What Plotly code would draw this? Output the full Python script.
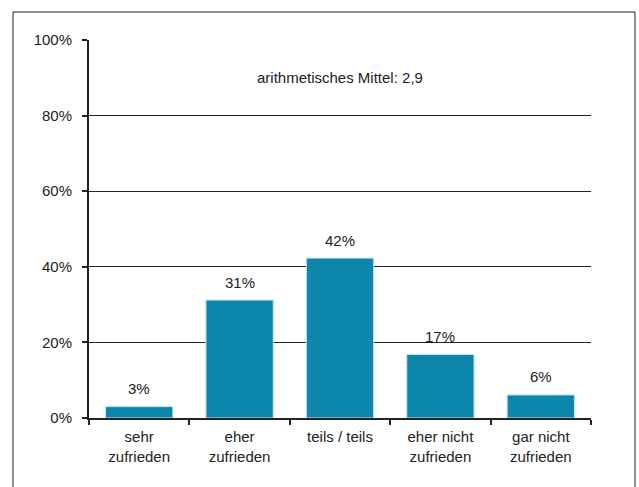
import plotly.graph_objects as go

categories = ["sehr<br>zufrieden", "eher<br>zufrieden", "teils / teils", "eher nicht<br>zufrieden", "gar nicht<br>zufrieden"]
values = [3.0, 31.2, 42.3, 16.8, 6.1]
value_labels = ["3%", "31%", "42%", "17%", "6%"]
tick_vals = [0, 20, 40, 60, 80, 100]
tick_text = ["0%", "20%", "40%", "60%", "80%", "100%"]
mean_text = "arithmetisches Mittel: 2,9"

W, H = 639, 487
L, R, T, B = 89, 48, 40, 69
pw, ph = W - L - R, H - T - B

fig = go.Figure()
fig.add_trace(go.Bar(
    x=categories, y=values,
    marker=dict(color="#0c87ab", line=dict(color="#bfe3ee", width=1)),
    width=0.67,
    hoverinfo="skip",
))

for c, v, t in zip(categories, values, value_labels):
    fig.add_annotation(x=c, y=v, text=t, showarrow=False, yshift=18,
                       yanchor="middle", font=dict(size=15, color="#222"))

fig.add_annotation(x=0.5, xref="paper", y=90, yref="y", text=mean_text, showarrow=False,
                   font=dict(size=15, color="#222"))

# outer frame
def px(x):
    return (x - L) / pw
def py(y):
    return 1 - (y - T) / ph
fig.add_shape(type="rect", xref="paper", yref="paper",
              x0=px(13), x1=px(635), y0=py(12), y1=py(495),
              line=dict(color="#222", width=1), layer="below")

fig.update_layout(
    width=W, height=H,
    margin=dict(l=L, r=R, t=T, b=B),
    paper_bgcolor="white", plot_bgcolor="white",
    font=dict(family="Liberation Sans, Arial, sans-serif", size=15, color="#222"),
    showlegend=False,
    bargap=0.33,
    xaxis=dict(
        type="category", tickson="boundaries", ticks="outside", ticklen=5,
        tickcolor="#222", tickwidth=1.5, ticklabelstandoff=4,
        showline=True, linecolor="#222", linewidth=2,
        showgrid=False, tickfont=dict(size=15, color="#222"),
        automargin=False, fixedrange=True,
    ),
    yaxis=dict(
        range=[0, 100], tickvals=tick_vals, ticktext=tick_text,
        ticks="outside", ticklen=5, tickcolor="#222", tickwidth=1.5,
        ticklabelstandoff=7,
        showline=True, linecolor="#222", linewidth=2,
        showgrid=True, gridcolor="#222", gridwidth=1,
        zeroline=False, tickfont=dict(size=15, color="#222"),
        automargin=False, fixedrange=True,
    ),
)

fig.write_html("out.html", config={"displayModeBar": False},
               post_script="document.body.style.margin='0';")
